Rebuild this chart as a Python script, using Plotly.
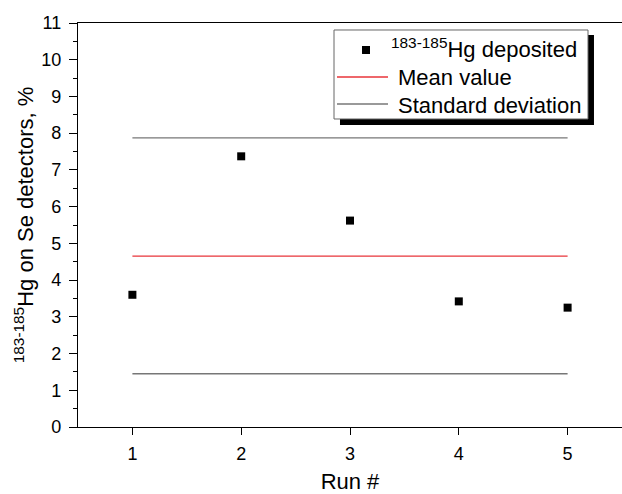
import plotly.graph_objects as go

runs = [1, 2, 3, 4, 5]
hg_deposited = [3.60, 7.37, 5.62, 3.42, 3.25]
mean_value = 4.65
std_lower = 1.45
std_upper = 7.87
x_ticks = [1, 2, 3, 4, 5]
y_ticks = list(range(0, 12))
legend_labels = ["<sup>183-185</sup>Hg deposited", "Mean value", "Standard deviation"]

FONT = "Liberation Sans, Arial, Helvetica, sans-serif"
RED = "#e8353a"
GRAY = "#777777"

fig = go.Figure()
fig.add_trace(go.Scatter(
    x=runs, y=hg_deposited, mode="markers", name=legend_labels[0],
    marker=dict(symbol="square", size=8, color="black", line=dict(width=0)),
    showlegend=False,
))
fig.add_trace(go.Scatter(
    x=[runs[0], runs[-1]], y=[mean_value, mean_value], mode="lines",
    name=legend_labels[1], line=dict(color=RED, width=1.3), showlegend=False,
))
fig.add_trace(go.Scatter(
    x=[runs[0], runs[-1], None, runs[0], runs[-1]],
    y=[std_upper, std_upper, None, std_lower, std_lower], mode="lines",
    name=legend_labels[2], line=dict(color=GRAY, width=1.3), showlegend=False,
))

# ---- hand-drawn legend box (Origin style, with drop shadow) ----
P = dict(xref="paper", yref="paper", layer="above")
fig.add_shape(type="rect", x0=0.4816, x1=0.9485, y0=0.7475, y1=0.9703,
              fillcolor="black", line=dict(width=0), **P)
fig.add_shape(type="rect", x0=0.4706, x1=0.9375, y0=0.7624, y1=0.9827,
              fillcolor="white", line=dict(color="#666666", width=1), **P)
fig.add_shape(type="rect", x0=0.5221, x1=0.5368, y0=0.9233, y1=0.9431,
              fillcolor="black", line=dict(width=0), **P)
fig.add_shape(type="line", x0=0.4761, x1=0.5699, y0=0.8663, y1=0.8663,
              line=dict(color=RED, width=1.3), **P)
fig.add_shape(type="line", x0=0.4761, x1=0.5699, y0=0.7995, y1=0.7995,
              line=dict(color=GRAY, width=1.3), **P)

legend_pos = [(0.5717, 0.9381), (0.5846, 0.8639), (0.5846, 0.7970)]
for label, (lx, ly) in zip(legend_labels, legend_pos):
    fig.add_annotation(text=label, x=lx, y=ly, xref="paper", yref="paper",
                       xanchor="left", yanchor="middle", showarrow=False,
                       font=dict(family=FONT, size=22, color="black"))

fig.update_layout(
    width=622, height=494,
    margin=dict(l=78, r=0, t=23, b=67),
    paper_bgcolor="white", plot_bgcolor="white",
    font=dict(family=FONT, size=18, color="black"),
    showlegend=False,
    xaxis=dict(
        range=[0.5, 5.5], tickvals=x_ticks, ticktext=[str(v) for v in x_ticks],
        showgrid=False, zeroline=False, showline=True, linecolor="black", linewidth=1.2,
        mirror=True, ticks="outside", ticklen=7, tickwidth=1.2, tickcolor="black",
        tickfont=dict(size=18), ticklabelstandoff=3,
        title=dict(text="Run #", font=dict(size=22), standoff=11),
    ),
    yaxis=dict(
        range=[0, 11], tickvals=y_ticks, ticktext=[str(v) for v in y_ticks],
        showgrid=False, zeroline=False, showline=True, linecolor="black", linewidth=1.2,
        mirror=False, ticks="outside", ticklen=8, tickwidth=1.2, tickcolor="black",
        tickfont=dict(size=18), ticklabelstandoff=4,
        minor=dict(dtick=0.5, tick0=0, ticks="outside", ticklen=4, tickwidth=1.2, tickcolor="black", showgrid=False),
        title=dict(text="<sup>183-185</sup>Hg on Se detectors, %", font=dict(size=22), standoff=1),
    ),
)

fig.write_html("out.html")
